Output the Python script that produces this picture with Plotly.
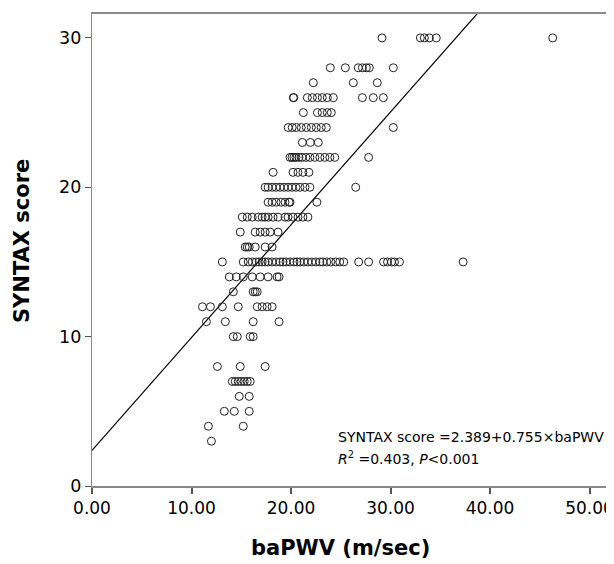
import plotly.graph_objects as go

# SYNTAX score rows (integer scores) and the baPWV values read for each point
bapwv = [
    # score 30
    29.15, 33.0, 33.4, 33.9, 34.6, 46.3,
    # score 28
    23.95, 25.46, 26.76, 27.17, 27.57, 27.87, 30.28,
    # score 27
    22.24, 26.26, 28.67,
    # score 26
    20.23, 20.28, 21.64, 22.14, 22.65, 23.14, 23.65, 24.25, 27.17, 28.27, 29.28,
    # score 25
    21.24, 22.65, 23.14, 23.65, 24.05,
    # score 24
    19.72, 20.12, 20.53, 21.03, 21.54, 22.04, 22.54, 23.04, 23.55, 30.28,
    # score 23
    21.14, 21.94, 22.74,
    # score 22
    19.9, 20.1, 20.3, 20.5, 20.8, 21.1, 21.5, 21.9, 22.4, 22.9, 23.4, 23.9, 24.4, 27.8,
    # score 21
    18.2, 20.2, 20.7, 21.2, 21.8,
    # score 20
    17.4, 17.7, 18.1, 18.5, 18.9, 19.3, 19.7, 20.1, 20.5, 20.9, 21.4, 21.9, 26.5,
    # score 19
    17.7, 18.1, 18.5, 19.0, 19.4, 19.8, 19.9, 22.6,
    # score 18
    15.1, 15.6, 16.1, 16.7, 17.1, 17.4, 17.7, 18.2, 18.7, 19.4, 19.7, 20.2, 20.7, 21.2, 21.7,
    # score 17
    14.9, 16.4, 16.9, 17.4, 17.9, 18.7,
    # score 16
    15.4, 15.6, 15.8, 16.4, 17.4, 18.1,
    # score 15
    13.1, 15.2, 15.7, 16.1, 16.5, 16.8, 17.1, 17.4, 17.7, 18.1, 18.5, 18.9, 19.2, 19.5,
    19.9, 20.3, 20.6, 20.9, 21.3, 21.7, 22.1, 22.5, 22.9, 23.2, 23.6, 24.0, 24.5, 24.9,
    25.3, 26.8, 27.8, 29.3, 29.7, 30.1, 30.4, 30.9, 37.3,
    # score 14
    13.8, 14.5, 15.2, 16.1, 16.9, 17.7, 18.6, 18.8,
    # score 13
    14.2, 16.2, 16.4, 16.6,
    # score 12
    11.1, 11.9, 13.1, 14.7, 16.6, 17.1, 17.6, 18.1,
    # score 11
    11.5, 13.4, 16.2, 18.8,
    # score 10
    14.2, 14.6, 15.9, 16.2,
    # score 8
    12.6, 14.9, 17.4,
    # score 7
    14.1, 14.4, 14.7, 15.0, 15.3, 15.6, 15.9,
    # score 6
    14.8, 15.8,
    # score 5
    13.3, 14.3, 15.8,
    # score 4
    11.7, 15.2,
    # score 3
    12.0,
]

row_scores = [30, 28, 27, 26, 25, 24, 23, 22, 21, 20, 19, 18, 17, 16, 15, 14, 13, 12, 11, 10, 8, 7, 6, 5, 4, 3]
row_counts = [6, 7, 3, 11, 5, 10, 3, 14, 5, 13, 8, 15, 6, 6, 37, 8, 4, 8, 4, 4, 3, 7, 2, 3, 2, 1]

syntax = []
for s, n in zip(row_scores, row_counts):
    syntax += [s] * n

intercept = 2.389
slope = 0.755
x_range = [0, 52.46]
y_range = [0, 31.6]
x_ticks = [0, 10, 20, 30, 40, 50]
y_ticks = [0, 10, 20, 30]

fit_x = list(x_range)
fit_y = [intercept + slope * v for v in fit_x]

FONT = "DejaVu Sans"

fig = go.Figure()
fig.add_trace(go.Scatter(
    x=fit_x, y=fit_y, mode="lines",
    line=dict(color="black", width=1.2),
    hoverinfo="skip", showlegend=False,
))
fig.add_trace(go.Scatter(
    x=bapwv, y=syntax, mode="markers",
    marker=dict(symbol="circle-open", size=8, color="#222", line=dict(width=1)),
    showlegend=False,
))

fig.add_annotation(
    x=24.55, y=3.28, xref="x", yref="y", xanchor="left", yanchor="middle",
    text="SYNTAX score =2.389+0.755×baPWV", showarrow=False,
    font=dict(family=FONT, size=14, color="black"),
)
fig.add_annotation(
    x=24.55, y=1.88, xref="x", yref="y", xanchor="left", yanchor="middle",
    text="<i>R</i><sup>2</sup> =0.403, <i>P</i>&lt;0.001", showarrow=False,
    font=dict(family=FONT, size=14, color="black"),
)

# axis titles
fig.add_annotation(
    x=(340 - 92) / 522, y=(486 - 548) / 472, xref="paper", yref="paper",
    xanchor="center", yanchor="middle", text="<b>baPWV (m/sec)</b>", showarrow=False,
    font=dict(family=FONT, size=21, color="black"),
)
fig.add_annotation(
    x=(22 - 92) / 522, y=(486 - 241) / 472, xref="paper", yref="paper",
    xanchor="center", yanchor="middle", text="<b>SYNTAX score</b>", showarrow=False,
    textangle=-90, font=dict(family=FONT, size=21, color="black"),
)

fig.update_xaxes(
    range=x_range, tickvals=x_ticks, ticktext=[f"{v:.2f}" for v in x_ticks],
    showgrid=False, zeroline=False, showline=True, linecolor="#8a8a8a", linewidth=1.5,
    mirror=True, ticks="outside", ticklen=6, tickcolor="#555", tickwidth=1.5,
    tickfont=dict(family=FONT, size=17, color="black"),
    ticklabeloverflow="allow",
)
fig.update_yaxes(
    range=y_range, tickvals=y_ticks,
    showgrid=False, zeroline=False, showline=True, linecolor="#8a8a8a", linewidth=1.2,
    mirror=True, ticks="outside", ticklen=6, tickcolor="#555", tickwidth=1.2,
    tickfont=dict(family=FONT, size=17.5, color="black"),
)
# the page body adds an 8px offset, so the figure is 8px smaller and margins shifted
fig.update_layout(
    width=606, height=556,
    margin=dict(l=84, r=0, t=6, b=78),
    paper_bgcolor="white", plot_bgcolor="white",
    showlegend=False,
)

fig.write_html("out.html")
